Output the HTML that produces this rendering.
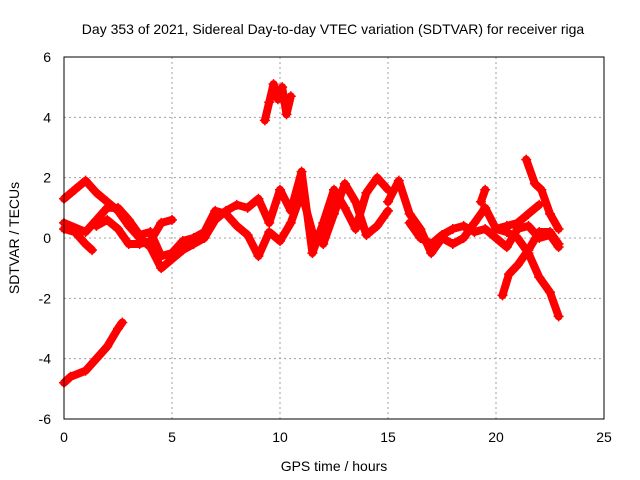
<!DOCTYPE html>
<html><head><meta charset="utf-8"><style>
body{margin:0;background:#fff}
svg{display:block;font-family:"Liberation Sans",sans-serif}
</style></head><body>
<svg id="c" width="640" height="480">
<text x="333" y="34" text-anchor="middle" font-size="14">Day 353 of 2021, Sidereal Day-to-day VTEC variation (SDTVAR) for receiver riga</text>
<text x="334" y="471" text-anchor="middle" font-size="14">GPS time / hours</text>
<text transform="translate(19,238) rotate(-90)" text-anchor="middle" font-size="14">SDTVAR / TECUs</text>
<g id="grid"></g><g id="marks"></g>
<rect x="64" y="57" width="540" height="362" fill="none" stroke="#000" stroke-width="1"/>
</svg>
<script>
const xTicks=[0,5,10,15,20,25];
const yTicks=[-6,-4,-2,0,2,4,6];
const s1=[[0,-4.8],[0.3,-4.6],[1,-4.4],[1.5,-4],[2,-3.6],[2.5,-3],[2.7,-2.8]];
const s2=[[9.3,3.9],[9.5,4.5],[9.7,5.1],[9.9,4.6],[10.1,5],[10.3,4.1],[10.5,4.7]];
const s3=[[0,1.3],[0.5,1.6],[1,1.9],[1.5,1.5],[2,1.2],[2.5,0.9],[3,0.4],[3.5,0],[4,-0.3],[4.5,-1],[5,-0.7],[5.5,-0.4],[6,-0.2],[6.5,0],[7,0.6],[7.5,0.9],[8,1.1],[8.5,1],[9,1.3],[9.5,0.5],[10,1.6],[10.5,0.9],[11,2.2],[11.5,-0.5],[12,0.5],[12.5,1.6],[13,1],[13.5,0.3],[14,1.5],[14.5,2],[15,1.6]];
const s4=[[0,0.3],[0.5,0.2],[1,-0.2],[1.3,-0.4]];
const s5=[[0,0.5],[1,0.2],[1.5,0.6],[2,1],[2.5,1],[3,0.6],[3.5,0.1],[4,0.2],[4.5,-0.6],[5,-0.5],[5.5,-0.1],[6,0],[6.5,0.2],[7,0.9],[7.5,0.8],[8,0.4],[8.5,0.1],[9,-0.6],[9.5,0.2],[10,-0.1],[10.5,0.5],[11,1.5],[11.5,0.2],[12,-0.2],[12.5,0.8],[13,1.8],[13.5,1.2],[14,0.1],[14.5,0.4],[15,0.9]];
const s6=[[1.5,0.4],[2,0.6],[2.5,0.3],[3,-0.2],[3.5,-0.2],[4,-0.1],[4.5,0.5],[5,0.6]];
const s7=[[15,1.2],[15.5,1.9],[16,0.8],[16.5,0.3],[17,-0.5],[17.5,0],[18,-0.2],[18.5,0],[19,0.5],[19.5,1],[20,0.3],[20.5,0.4],[21,0.5],[21.5,0.8],[22,1.1]];
const s8=[[16,0.5],[16.5,0],[17,-0.2],[17.5,0.1],[18,0.3],[18.5,0.4],[19,0.2],[19.5,0.3],[20,0],[20.5,-0.3],[21,0.3],[21.5,0.4],[22,0],[22.5,0.1],[22.9,-0.3]];
const s9=[[20.3,-1.9],[20.6,-1.2],[21,-0.9],[21.5,-0.4],[22,0.2],[22.5,0.2],[22.9,-0.2]];
const s10=[[21.4,2.6],[21.8,1.8],[22.1,1.6],[22.5,0.8],[22.9,0.3]];
const s11=[[20,0.3],[20.5,0.2],[21,0],[21.5,-0.5],[22,-1.3],[22.5,-1.8],[22.9,-2.6]];
const s12=[[19.3,1.2],[19.5,1.6]];
const series=[s1,s2,s3,s4,s5,s6,s7,s8,s9,s10,s11,s12];
const NS="http://www.w3.org/2000/svg";
const X=v=>64+v/25*540, Y=v=>238-v/6*181;
const grid=document.getElementById('grid'), marks=document.getElementById('marks');
function mk(t,a,p){const e=document.createElementNS(NS,t);for(const k in a)e.setAttribute(k,a[k]);p.appendChild(e);return e;}
xTicks.forEach(t=>{
 if(t>0&&t<25){const l=mk('line',{x1:X(t),x2:X(t),y1:57,y2:419,stroke:'#a0a0a0','stroke-dasharray':'2,3'},grid);
 
 }
 const tl=mk('text',{x:X(t),y:442,'text-anchor':'middle','font-size':14},grid);tl.textContent=t;
 
 
});
yTicks.forEach(t=>{
 if(t>-6&&t<6){const l=mk('line',{x1:64,x2:604,y1:Y(t),y2:Y(t),stroke:'#a0a0a0','stroke-dasharray':'2,3'},grid);
 
 }
 const tl=mk('text',{x:51,y:Y(t)+5,'text-anchor':'end','font-size':14},grid);tl.textContent=t;
 
 
});
series.forEach((s,i)=>{
 const p=mk('path',{d:s.map((q,j)=>(j?'L':'M')+X(q[0])+','+Y(q[1])).join(''),fill:'none',stroke:'#ff0000','stroke-width':8,'stroke-linejoin':'round','stroke-linecap':'round'},marks);
 
 
 s.forEach(q=>{
  const m=mk('path',{d:`M${X(q[0])-5},${Y(q[1])}h10M${X(q[0])},${Y(q[1])-5}v10`,stroke:'#ff0000','stroke-width':1.5},marks);
  
  
 });
});
</script>
</body></html>
